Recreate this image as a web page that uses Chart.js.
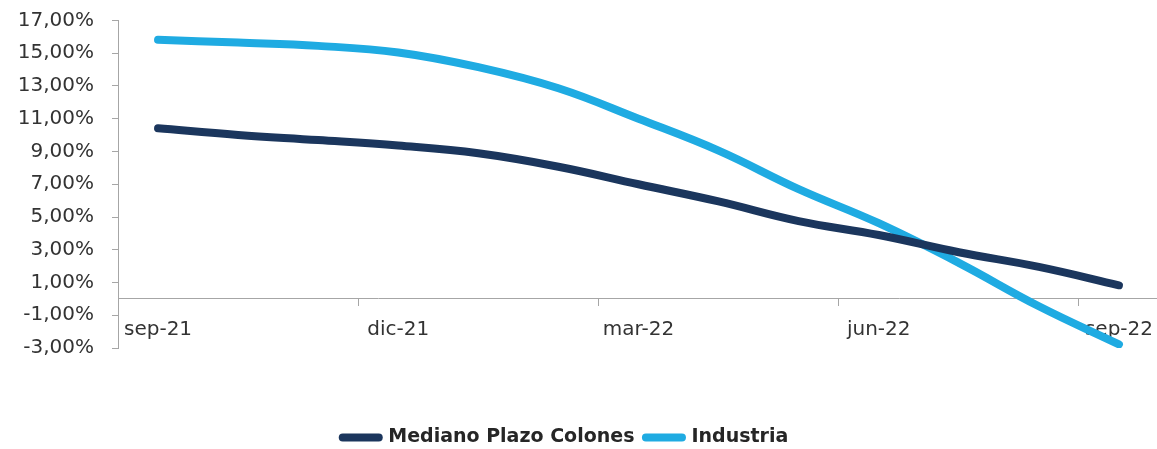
<!DOCTYPE html>
<html lang="es">
<head>
<meta charset="utf-8">
<title>Rendimiento: Mediano Plazo Colones vs Industria</title>
<script src="https://cdn.jsdelivr.net/npm/chart.js@4/dist/chart.umd.min.js"></script>
<style>
  html, body { margin: 0; padding: 0; background: #ffffff; overflow: hidden; }
  #wrap { position: relative; width: 1159px; height: 449px; }
</style>
</head>
<body>
<div id="wrap"><canvas id="chart"></canvas></div>
<script>
// Monthly categories, sep-21 .. sep-22
const months = ['sep-21', 'oct-21', 'nov-21', 'dic-21', 'ene-22', 'feb-22', 'mar-22',
                'abr-22', 'may-22', 'jun-22', 'jul-22', 'ago-22', 'sep-22'];
// Category labels printed on the horizontal axis (quarterly)
const shownMonths = ['sep-21', 'dic-21', 'mar-22', 'jun-22', 'sep-22'];

// Returns (%) per month
const medianoPlazoColones = [10.42, 10.01, 9.70, 9.36, 8.89, 8.07, 7.00, 5.95, 4.75, 3.90, 2.85, 1.95, 0.83];
const industria           = [15.82, 15.65, 15.45, 15.05, 14.15, 12.86, 11.00, 9.05, 6.70, 4.62, 2.20, -0.45, -2.78];

// Value axis range and step (%)
const yMin = -3;
const yMax = 17;
const yStep = 2;

const NAVY = '#1b365d';
const SKY = '#1fabe2';
const AXIS_GRAY = '#a6a6a6';
const TEXT = '#333333';
const FONT = "'DejaVu Sans', sans-serif";

const fmtPct = v => v.toFixed(2).replace('.', ',') + '%';

new Chart(document.getElementById('chart'), {
  type: 'line',
  data: {
    labels: months,
    datasets: [
      {
        label: 'Mediano Plazo Colones',
        data: medianoPlazoColones,
        borderColor: NAVY,
        backgroundColor: NAVY,
        borderWidth: 8,
        borderCapStyle: 'round',
        borderJoinStyle: 'round',
        pointRadius: 0,
        pointHoverRadius: 0,
        tension: 0.4,
        fill: false
      },
      {
        label: 'Industria',
        data: industria,
        borderColor: SKY,
        backgroundColor: SKY,
        borderWidth: 8,
        borderCapStyle: 'round',
        borderJoinStyle: 'round',
        pointRadius: 0,
        pointHoverRadius: 0,
        tension: 0.4,
        fill: false
      }
    ]
  },
  options: {
    responsive: true,
    maintainAspectRatio: false,
    animation: false,
    events: [],
    layout: {
      padding: { top: 20.5, left: -28, right: 0, bottom: -8 }
    },
    scales: {
      x: {
        type: 'category',
        position: { y: 0 },
        offset: true,
        border: { display: true, color: AXIS_GRAY, width: 1 },
        grid: {
          offset: true,
          drawOnChartArea: false,
          drawTicks: true,
          tickLength: 7,
          tickColor: ctx => shownMonths.includes(months[ctx.index]) ? AXIS_GRAY : 'rgba(0,0,0,0)'
        },
        ticks: {
          autoSkip: false,
          maxRotation: 0,
          minRotation: 0,
          padding: 12,
          color: TEXT,
          font: { family: FONT, size: 20 },
          callback: function (value, index) {
            const lab = months[index];
            return shownMonths.includes(lab) ? lab : '';
          }
        },
        afterFit: scale => { scale.paddingLeft = 0; scale.paddingRight = 0; }
      },
      y: {
        min: yMin,
        max: yMax,
        border: { display: true, color: AXIS_GRAY, width: 1 },
        grid: {
          drawOnChartArea: false,
          drawTicks: true,
          tickLength: 6,
          tickColor: AXIS_GRAY
        },
        ticks: {
          stepSize: yStep,
          padding: 18,
          color: TEXT,
          font: { family: FONT, size: 20 },
          callback: v => fmtPct(v)
        },
        afterFit: scale => {
          scale.width = 146;
          scale.paddingTop = 0;
          scale.paddingBottom = 0;
        }
      }
    },
    plugins: {
      tooltip: { enabled: false },
      legend: {
        display: true,
        position: 'bottom',
        align: 'center',
        title: {
          display: true,
          text: '',
          font: { size: 10 },
          padding: { top: 56.5, bottom: 0 }
        },
        labels: {
          usePointStyle: true,
          pointStyleWidth: 36,
          padding: 11.5,
          color: '#262626',
          font: { family: FONT, size: 19, weight: 'bold' },
          generateLabels: chart => chart.data.datasets.map((ds, i) => ({
            text: ds.label,
            fillStyle: ds.borderColor,
            strokeStyle: ds.borderColor,
            lineWidth: 8,
            lineCap: 'round',
            pointStyle: 'line',
            fontColor: '#262626',
            hidden: false,
            datasetIndex: i
          }))
        }
      }
    }
  }
});
</script>
</body>
</html>
